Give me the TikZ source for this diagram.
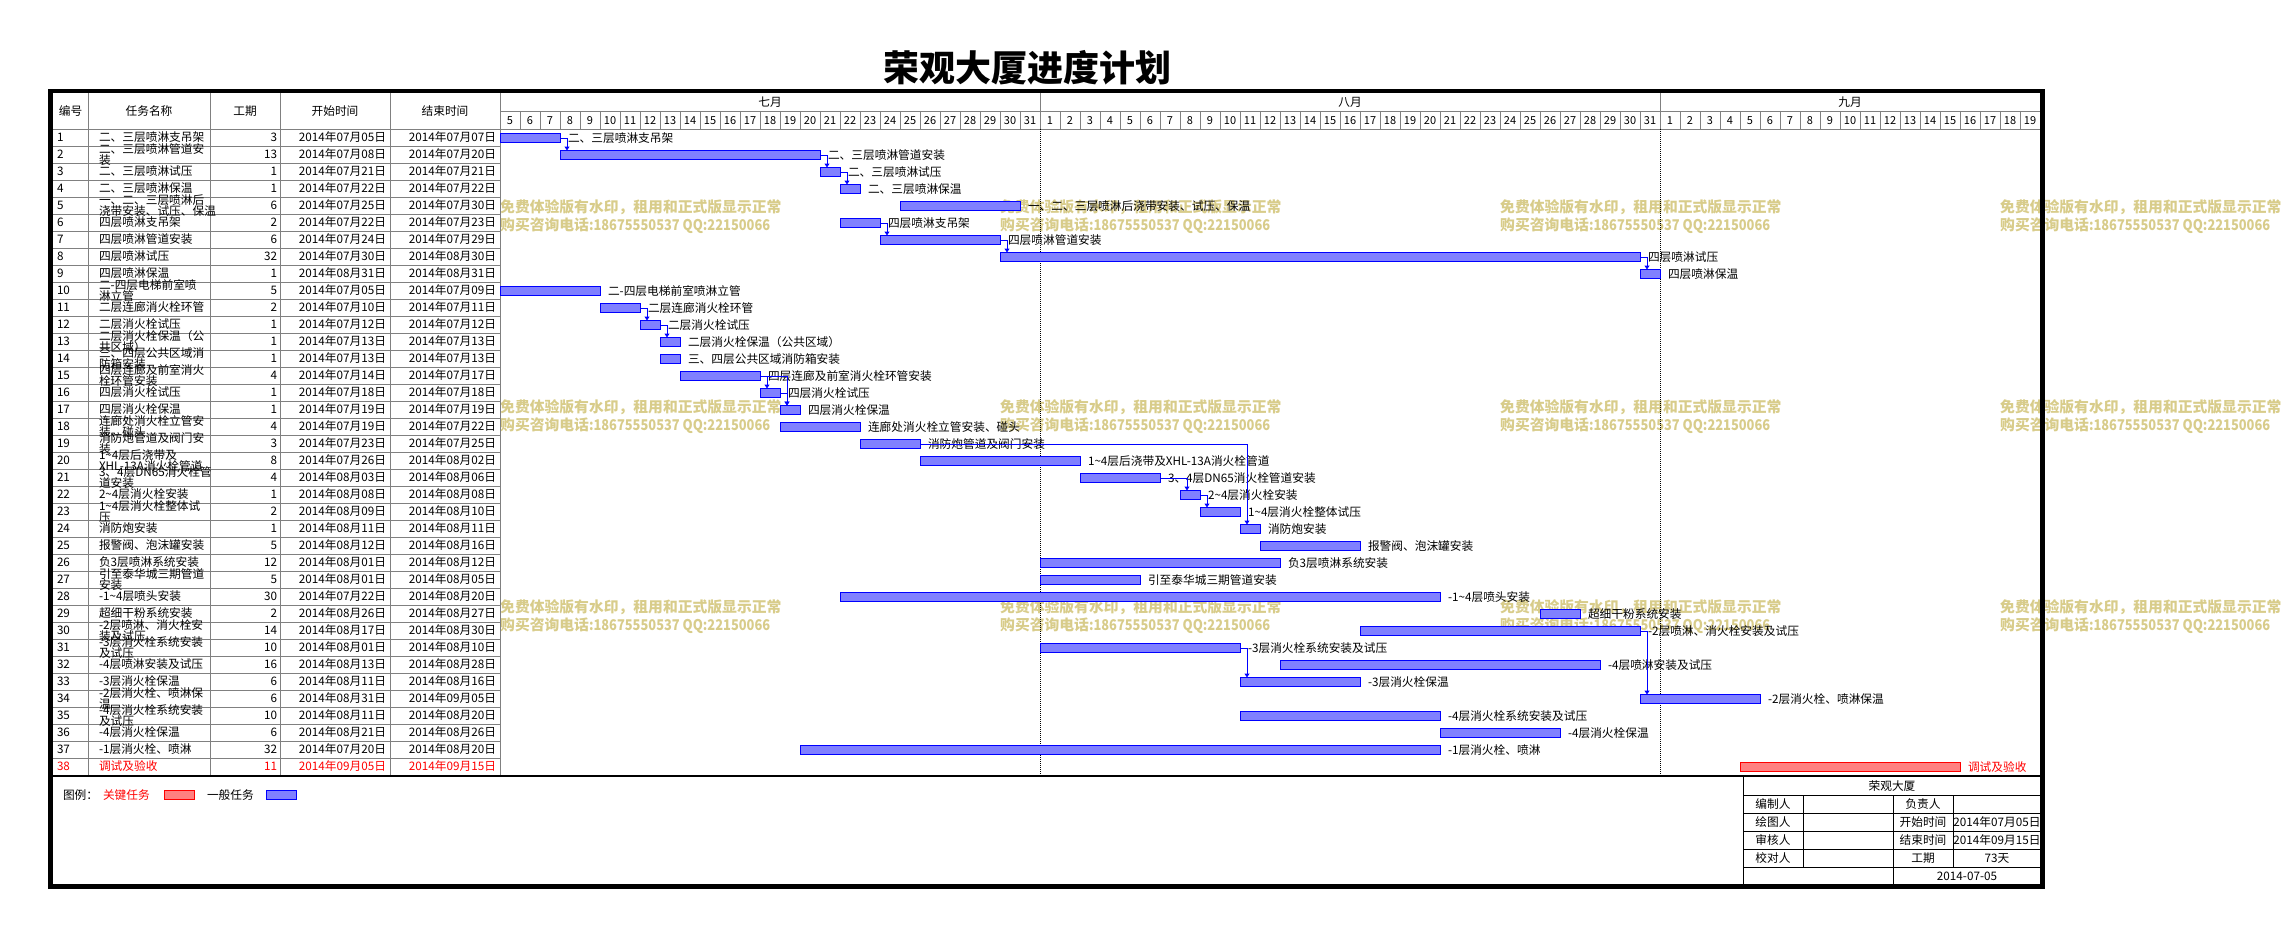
\documentclass[tikz,border=0pt]{standalone}
\usepackage{fontspec}
\setmainfont{Noto Sans CJK SC}
\newfontfamily\wmnarrow{Noto Sans CJK SC}[FakeStretch=0.87]
\usetikzlibrary{positioning,arrows.meta}

\definecolor{wmark}{RGB}{216,204,138}
\definecolor{gridgray}{RGB}{128,128,128}
\newcommand\rowbrk{}
\newcommand\fs[2]{\fontsize{#1}{#2}\selectfont}

\begin{document}
\begin{tikzpicture}
    [ x=1pt, y=-1pt
    , cell/.style={inner sep=0pt, outer sep=0pt, font=\fs{11.7}{11.7}}
    , bar/.style={draw=blue, fill=blue!50, line width=1pt, inner sep=0pt, outer sep=0pt, minimum height=9pt}
    , genbar/.style={bar}
    , keybar/.style={bar, draw=red, fill=red!50}
    , gen/.style={text=black}
    , key/.style={text=red}
    , lbl/.style={cell, anchor=west}
    , link/.style={draw=blue, line width=1pt, -{Triangle[length=4pt,width=5pt]}}
    , grid/.style={draw=gridgray, line width=1pt}
    , wmk/.style={inner sep=0pt, anchor=west, align=left, text=wmark, font=\fs{14.8}{18}\bfseries}
    ]
\useasboundingbox (0,0) rectangle (2284,937);

\node[font=\fs{36}{36}\bfseries] (title) at (1027,68) {荣观大厦进度计划};

% watermarks
\foreach \wx in {500,1000,1500,2000}
  \foreach \wy in {217,417,617}
    \node[wmk] (w\wx-\wy) at (\wx,\wy) {免费体验版有水印，租用和正式版显示正常\\购买咨询电话{\wmnarrow\bfseries :18675550537 QQ:22150066}};

% table grid
\draw[grid] (53,129) -- (2040,129);
\foreach \r in {1,...,37}
  \draw[grid] (53,129+17*\r) -- (500,129+17*\r);
\foreach \c in {88,210,280,390,500}
  \draw[grid] (\c,93) -- (\c,775);
\draw[grid] (500,111.5) -- (2040,111.5);
\draw[grid] (1040,93) -- (1040,129);
\draw[grid] (1660,93) -- (1660,129);
\foreach \k in {1,...,76}
  \draw[grid] (500+20*\k,111.5) -- (500+20*\k,129);
\draw[line width=1pt, dash pattern=on 1pt off 1pt] (1040,129) -- (1040,775);
\draw[line width=1pt, dash pattern=on 1pt off 1pt] (1660,129) -- (1660,775);
\draw[line width=1.5pt] (53,776) -- (2040,776);

\node[cell] (hnum) at (70.5,111) {编号};
\node[cell] (hname) at (149,111) {任务名称};
\node[cell] (hdur) at (245,111) {工期};
\node[cell] (hstart) at (335,111) {开始时间};
\node[cell] (hend) at (445,111) {结束时间};
\node[cell] (jul) at (770,102) {七月};
\node[cell] (aug) at (1350,102) {八月};
\node[cell] (sep) at (1850,102) {九月};
\foreach \k in {0,...,76}{
  \pgfmathtruncatemacro\dd{\k<27 ? \k+5 : (\k<58 ? \k-26 : \k-57)}
  \node[cell, font=\fs{11}{11}] (day\k) at (510+20*\k,120.5) {\dd};
}

\foreach \i/\name/\dur/\sd/\ed/\x/\k in
  {1/二、三层喷淋支吊架/3/07月05日/07月07日/0/gen,
   2/二、三层喷淋管道安\rowbrk 装/13/07月08日/07月20日/3/gen,
   3/二、三层喷淋试压/1/07月21日/07月21日/16/gen,
   4/二、三层喷淋保温/1/07月22日/07月22日/17/gen,
   5/一、二、三层喷淋后\rowbrk 浇带安装、试压、保\rowbrk 温/6/07月25日/07月30日/20/gen,
   6/四层喷淋支吊架/2/07月22日/07月23日/17/gen,
   7/四层喷淋管道安装/6/07月24日/07月29日/19/gen,
   8/四层喷淋试压/32/07月30日/08月30日/25/gen,
   9/四层喷淋保温/1/08月31日/08月31日/57/gen,
   10/二-四层电梯前室喷\rowbrk 淋立管/5/07月05日/07月09日/0/gen,
   11/二层连廊消火栓环管/2/07月10日/07月11日/5/gen,
   12/二层消火栓试压/1/07月12日/07月12日/7/gen,
   13/二层消火栓保温（公\rowbrk 共区域）/1/07月13日/07月13日/8/gen,
   14/三、四层公共区域消\rowbrk 防箱安装/1/07月13日/07月13日/8/gen,
   15/四层连廊及前室消火\rowbrk 栓环管安装/4/07月14日/07月17日/9/gen,
   16/四层消火栓试压/1/07月18日/07月18日/13/gen,
   17/四层消火栓保温/1/07月19日/07月19日/14/gen,
   18/连廊处消火栓立管安\rowbrk 装、碰头/4/07月19日/07月22日/14/gen,
   19/消防炮管道及阀门安\rowbrk 装/3/07月23日/07月25日/18/gen,
   20/1\textasciitilde 4层后浇带及\rowbrk XHL-13A消火栓管道/8/07月26日/08月02日/21/gen,
   21/3、4层DN65消火栓管\rowbrk 道安装/4/08月03日/08月06日/29/gen,
   22/2\textasciitilde 4层消火栓安装/1/08月08日/08月08日/34/gen,
   23/1\textasciitilde 4层消火栓整体试\rowbrk 压/2/08月09日/08月10日/35/gen,
   24/消防炮安装/1/08月11日/08月11日/37/gen,
   25/报警阀、泡沫罐安装/5/08月12日/08月16日/38/gen,
   26/负3层喷淋系统安装/12/08月01日/08月12日/27/gen,
   27/引至泰华城三期管道\rowbrk 安装/5/08月01日/08月05日/27/gen,
   28/-1\textasciitilde 4层喷头安装/30/07月22日/08月20日/17/gen,
   29/超细干粉系统安装/2/08月26日/08月27日/52/gen,
   30/-2层喷淋、消火栓安\rowbrk 装及试压/14/08月17日/08月30日/43/gen,
   31/-3层消火栓系统安装\rowbrk 及试压/10/08月01日/08月10日/27/gen,
   32/-4层喷淋安装及试压/16/08月13日/08月28日/39/gen,
   33/-3层消火栓保温/6/08月11日/08月16日/37/gen,
   34/-2层消火栓、喷淋保\rowbrk 温/6/08月31日/09月05日/57/gen,
   35/-4层消火栓系统安装\rowbrk 及试压/10/08月11日/08月20日/37/gen,
   36/-4层消火栓保温/6/08月21日/08月26日/47/gen,
   37/-1层消火栓、喷淋/32/07月20日/08月20日/15/gen,
   38/调试及验收/11/09月05日/09月15日/62/key}{
  \pgfmathsetmacro\yc{120.5+17*\i}
  \pgfmathsetmacro\xs{500+20*\x}
  \pgfmathsetmacro\bw{20*\dur}
  \node[cell, \k, anchor=west] (n\i) at (57,\yc) {\i};
  \node[cell, \k, anchor=west, align=left] (t\i) at (99,\yc) {\def\rowbrk{\\}\name};
  \node[cell, \k, anchor=east] (d\i) at (277,\yc) {\dur};
  \node[cell, \k, anchor=east] (s\i) at (386,\yc) {2014年\sd};
  \node[cell, \k, anchor=east] (e\i) at (496,\yc) {2014年\ed};
  \node[\k bar, anchor=west, minimum width=\bw pt] (b\i) at (\xs,\yc+0.5) {};
  \node[lbl, \k, right=8pt of b\i] (l\i) {\name};
}

\foreach \a/\b in {1/2,2/3,3/4,6/7,7/8,8/9,11/12,12/13,15/16,15/17,16/17,19/24,21/22,22/23,31/33,30/34}
  \draw[link] (b\a.east) -| ([xshift=7pt]b\b.north west);

% legend
\node[cell, anchor=west] (lg) at (63,795) {图例：};
\node[cell, key, anchor=west] (lgkey) at (103,795) {关键任务};
\node[keybar, anchor=west, minimum width=30pt] (lgkeybar) at (164,795) {};
\node[cell, anchor=west] (lggen) at (207,795) {一般任务};
\node[genbar, anchor=west, minimum width=30pt] (lggenbar) at (266,795) {};

% title block
\draw[line width=1pt] (1743,776) -- (1743,886);
\foreach \y in {795,813,831,849,867}
  \draw[line width=1pt] (1743,\y) -- (2041,\y);
\draw[line width=1pt] (1803,795) -- (1803,867);
\draw[line width=1pt] (1893,795) -- (1893,886);
\draw[line width=1pt] (1953,795) -- (1953,867);
\node[cell] (proj) at (1892,786) {荣观大厦};
\foreach \y/\a/\b/\c in {804/编制人/负责人/{}, 822/绘图人/开始时间/2014年07月05日, 840/审核人/结束时间/2014年09月15日, 858/校对人/工期/73天}{
  \node[cell] (ta\y) at (1773,\y) {\a};
  \node[cell] (tb\y) at (1923,\y) {\b};
  \node[cell] (tc\y) at (1997,\y) {\c};
}
\node[cell] (tdate) at (1967,876) {2014-07-05};

\draw[line width=4.5pt] (50.5,91) rectangle (2042.5,886.5);
\end{tikzpicture}
\end{document}
